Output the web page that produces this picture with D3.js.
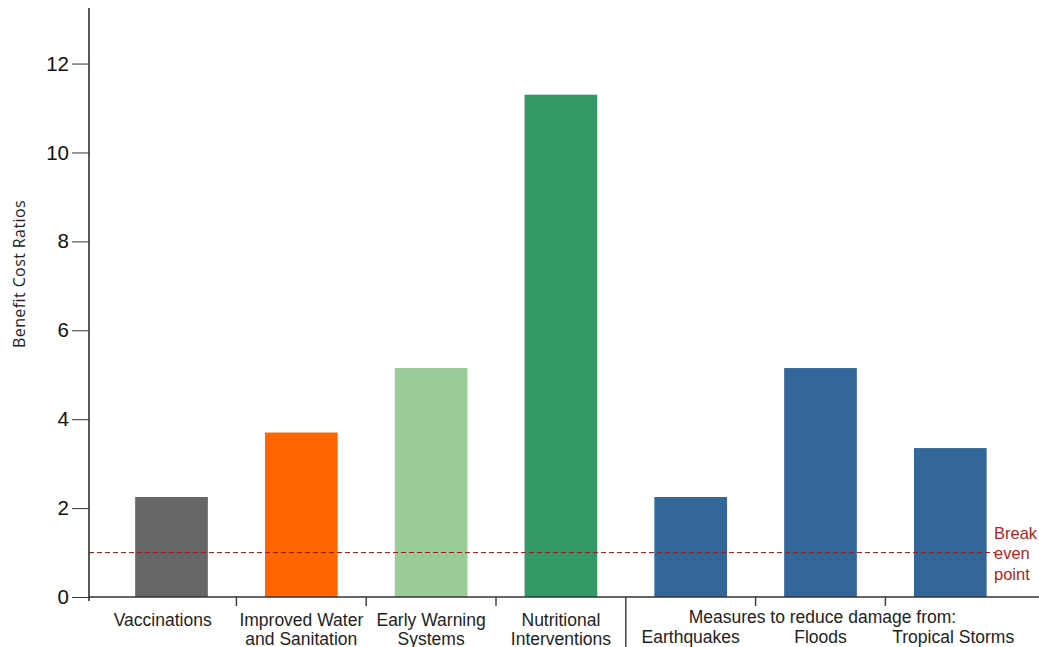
<!DOCTYPE html>
<html>
<head>
<meta charset="utf-8">
<script src="https://cdn.jsdelivr.net/npm/d3@7"></script>
<style>
  html, body { margin: 0; padding: 0; background: #fff; }
  svg { display: block; }
</style>
</head>
<body>
<svg id="chart" width="1039" height="647"></svg>
<script>
// Benefit-cost ratios of prevention and preparedness measures
const categories = ["Vaccinations", "Improved Water and Sanitation", "Early Warning Systems",
  "Nutritional Interventions", "Earthquakes", "Floods", "Tropical Storms"];
const labelLines = [["Vaccinations"], ["Improved Water", "and Sanitation"], ["Early Warning", "Systems"],
  ["Nutritional", "Interventions"], ["Earthquakes"], ["Floods"], ["Tropical Storms"]];
const ratios = [2.25, 3.7, 5.15, 11.3, 2.25, 5.15, 3.35];
const barColors = ["#666666", "#ff6600", "#99cc99", "#339966", "#336699", "#336699", "#336699"];
const hazardGroup = ["Earthquakes", "Floods", "Tropical Storms"];
const hazardTitle = "Measures to reduce damage from:";
const yTicks = [0, 2, 4, 6, 8, 10, 12];
const breakEven = 1;
const breakEvenLines = ["Break", "even", "point"];
const yTitle = "Benefit Cost Ratios";

const svg = d3.select("#chart");
const W = 1039;
const axisX = 89, baseY = 597, topY = 8, rightEnd = 1021;

const y = d3.scaleLinear().domain([0, 13.25]).range([baseY, topY]);
const x = d3.scaleBand().domain(categories).range([106.6, 1015.2])
  .paddingInner(0.44).paddingOuter(0.22);
const gapHalf = x.step() * x.paddingInner() / 2;

// bars
svg.append("g").selectAll("rect").data(categories).join("rect")
  .attr("x", d => x(d))
  .attr("width", x.bandwidth())
  .attr("y", (d, i) => y(ratios[i]))
  .attr("height", (d, i) => y(0) - y(ratios[i]))
  .attr("fill", (d, i) => barColors[i]);

// break-even reference line
svg.append("line")
  .attr("x1", axisX).attr("x2", 995)
  .attr("y1", y(breakEven)).attr("y2", y(breakEven))
  .attr("stroke", "#a31515").attr("stroke-width", 1)
  .attr("stroke-dasharray", "5,3");

svg.append("text")
  .attr("x", 994).attr("y", y(breakEven) - 14)
  .attr("font-family", "Liberation Sans, Arial, sans-serif")
  .attr("font-size", 16.5).attr("fill", "#b22222")
  .selectAll("tspan").data(breakEvenLines).join("tspan")
  .attr("x", 994).attr("dy", (d, i) => i === 0 ? 0 : 20.5)
  .text(d => d);

// y axis
const yAxis = svg.append("g").attr("transform", `translate(${axisX},0)`)
  .call(d3.axisLeft(y).tickValues(yTicks).tickSize(17).tickPadding(3).tickFormat(d3.format("d")));
yAxis.select(".domain").attr("d", `M0,${topY}V${baseY + 4}`).attr("stroke", "#222").attr("stroke-width", 1.5);
yAxis.selectAll(".tick line").attr("stroke", "#333");
yAxis.selectAll(".tick text")
  .attr("font-family", "Liberation Sans, Arial, sans-serif")
  .attr("font-size", 20.5).attr("fill", "#111");

svg.append("text")
  .attr("transform", `translate(25,${(198 + 350) / 2}) rotate(-90)`)
  .attr("text-anchor", "middle")
  .attr("font-family", "Open Sans, sans-serif")
  .attr("font-size", 16).attr("letter-spacing", 0.4).attr("fill", "#222")
  .text(yTitle);

// x axis baseline and dividers between categories
svg.append("line")
  .attr("x1", axisX).attr("x2", W)
  .attr("y1", baseY).attr("y2", baseY)
  .attr("stroke", "#333").attr("stroke-width", 1.5);

const dividers = categories.slice(1).map(c => x(c) - gapHalf);
const groupStart = x(hazardGroup[0]) - gapHalf;
svg.append("g").selectAll("line").data(dividers).join("line")
  .attr("x1", d => d).attr("x2", d => d)
  .attr("y1", baseY)
  .attr("y2", d => d === groupStart ? 647 : baseY + 9)
  .attr("stroke", "#444").attr("stroke-width", 1.5);

// category labels centred between dividers
const edges = [axisX, ...dividers, rightEnd];
const labelG = svg.append("g")
  .attr("font-family", "Liberation Sans, Arial, sans-serif")
  .attr("font-size", 17.5).attr("fill", "#1e1e1e")
  .attr("text-anchor", "middle");

categories.forEach((c, i) => {
  const cx = (edges[i] + edges[i + 1]) / 2;
  const inGroup = hazardGroup.includes(c);
  const t = labelG.append("text").attr("y", inGroup ? 643 : 625.5);
  labelLines[i].forEach((line, k) => {
    t.append("tspan").attr("x", cx).attr("dy", k === 0 ? 0 : 19.5).text(line);
  });
});

labelG.append("text")
  .attr("x", (groupStart + rightEnd) / 2 - 1)
  .attr("y", 622.5)
  .text(hazardTitle);
</script>
</body>
</html>
